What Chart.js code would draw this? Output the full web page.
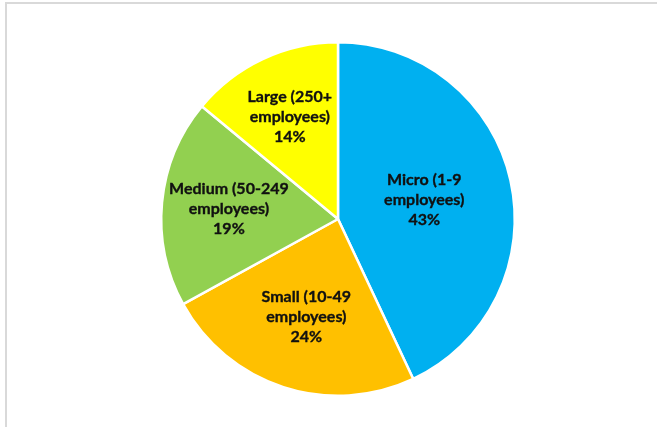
<!DOCTYPE html>
<html>
<head>
<meta charset="utf-8">
<script src="https://cdn.jsdelivr.net/npm/chart.js@4"></script>
<style>
  html, body { margin: 0; padding: 0; background: #fff; }
  #wrap { position: relative; width: 657px; height: 427px; overflow: hidden; }
  #frame {
    position: absolute; left: 5px; top: 2px; right: -10px; bottom: -10px;
    border-left: 2px solid #d9d9d9; border-top: 2px solid #d9d9d9;
  }
  canvas { position: absolute; left: 0; top: 0; }
</style>
</head>
<body>
<div id="wrap">
  <div id="frame"></div>
  <canvas id="sizeChart" width="657" height="427"></canvas>
</div>
<script>
const categories = [
  ["Micro (1-9", "employees)"],
  ["Small (10-49", "employees)"],
  ["Medium (50-249", "employees)"],
  ["Large (250+", "employees)"],
];
const shares = [43, 24, 19, 14];
const sliceColors = ["#00B0F0", "#FFC000", "#92D050", "#FFFF00"];
// how far out along each slice its label sits (fraction of the radius)
const labelDepth = [0.5, 0.58, 0.62, 0.64];

const sliceLabels = {
  id: "sliceLabels",
  afterDatasetsDraw(chart) {
    const ctx = chart.ctx;
    const meta = chart.getDatasetMeta(0);
    ctx.save();
    ctx.font = "bold 16px Lato, 'Open Sans', sans-serif";
    ctx.fillStyle = "#111111";
    ctx.strokeStyle = "#111111";
    ctx.lineWidth = 0.35;
    ctx.textAlign = "center";
    ctx.textBaseline = "middle";
    meta.data.forEach((arc, i) => {
      const p = arc.getProps(["x", "y", "startAngle", "endAngle", "outerRadius"], true);
      const mid = (p.startAngle + p.endAngle) / 2;
      const r = p.outerRadius * labelDepth[i];
      const cx = p.x + Math.cos(mid) * r;
      const cy = p.y + Math.sin(mid) * r;
      const lines = categories[i].concat([shares[i] + "%"]);
      const lh = 20;
      lines.forEach((t, k) => {
        const ty = cy + (k - (lines.length - 1) / 2) * lh;
        ctx.fillText(t, cx, ty);
        ctx.strokeText(t, cx, ty);
      });
    });
    ctx.restore();
  },
};

new Chart(document.getElementById("sizeChart").getContext("2d"), {
  type: "pie",
  data: {
    labels: categories,
    datasets: [
      {
        data: shares,
        backgroundColor: sliceColors,
        borderColor: "#ffffff",
        borderWidth: 2.5,
      },
    ],
  },
  options: {
    responsive: false,
    animation: false,
    layout: { padding: { top: 41, bottom: 30, left: 100, right: 81 } },
    plugins: {
      legend: { display: false },
      tooltip: { enabled: false },
    },
  },
  plugins: [sliceLabels],
});
</script>
</body>
</html>
